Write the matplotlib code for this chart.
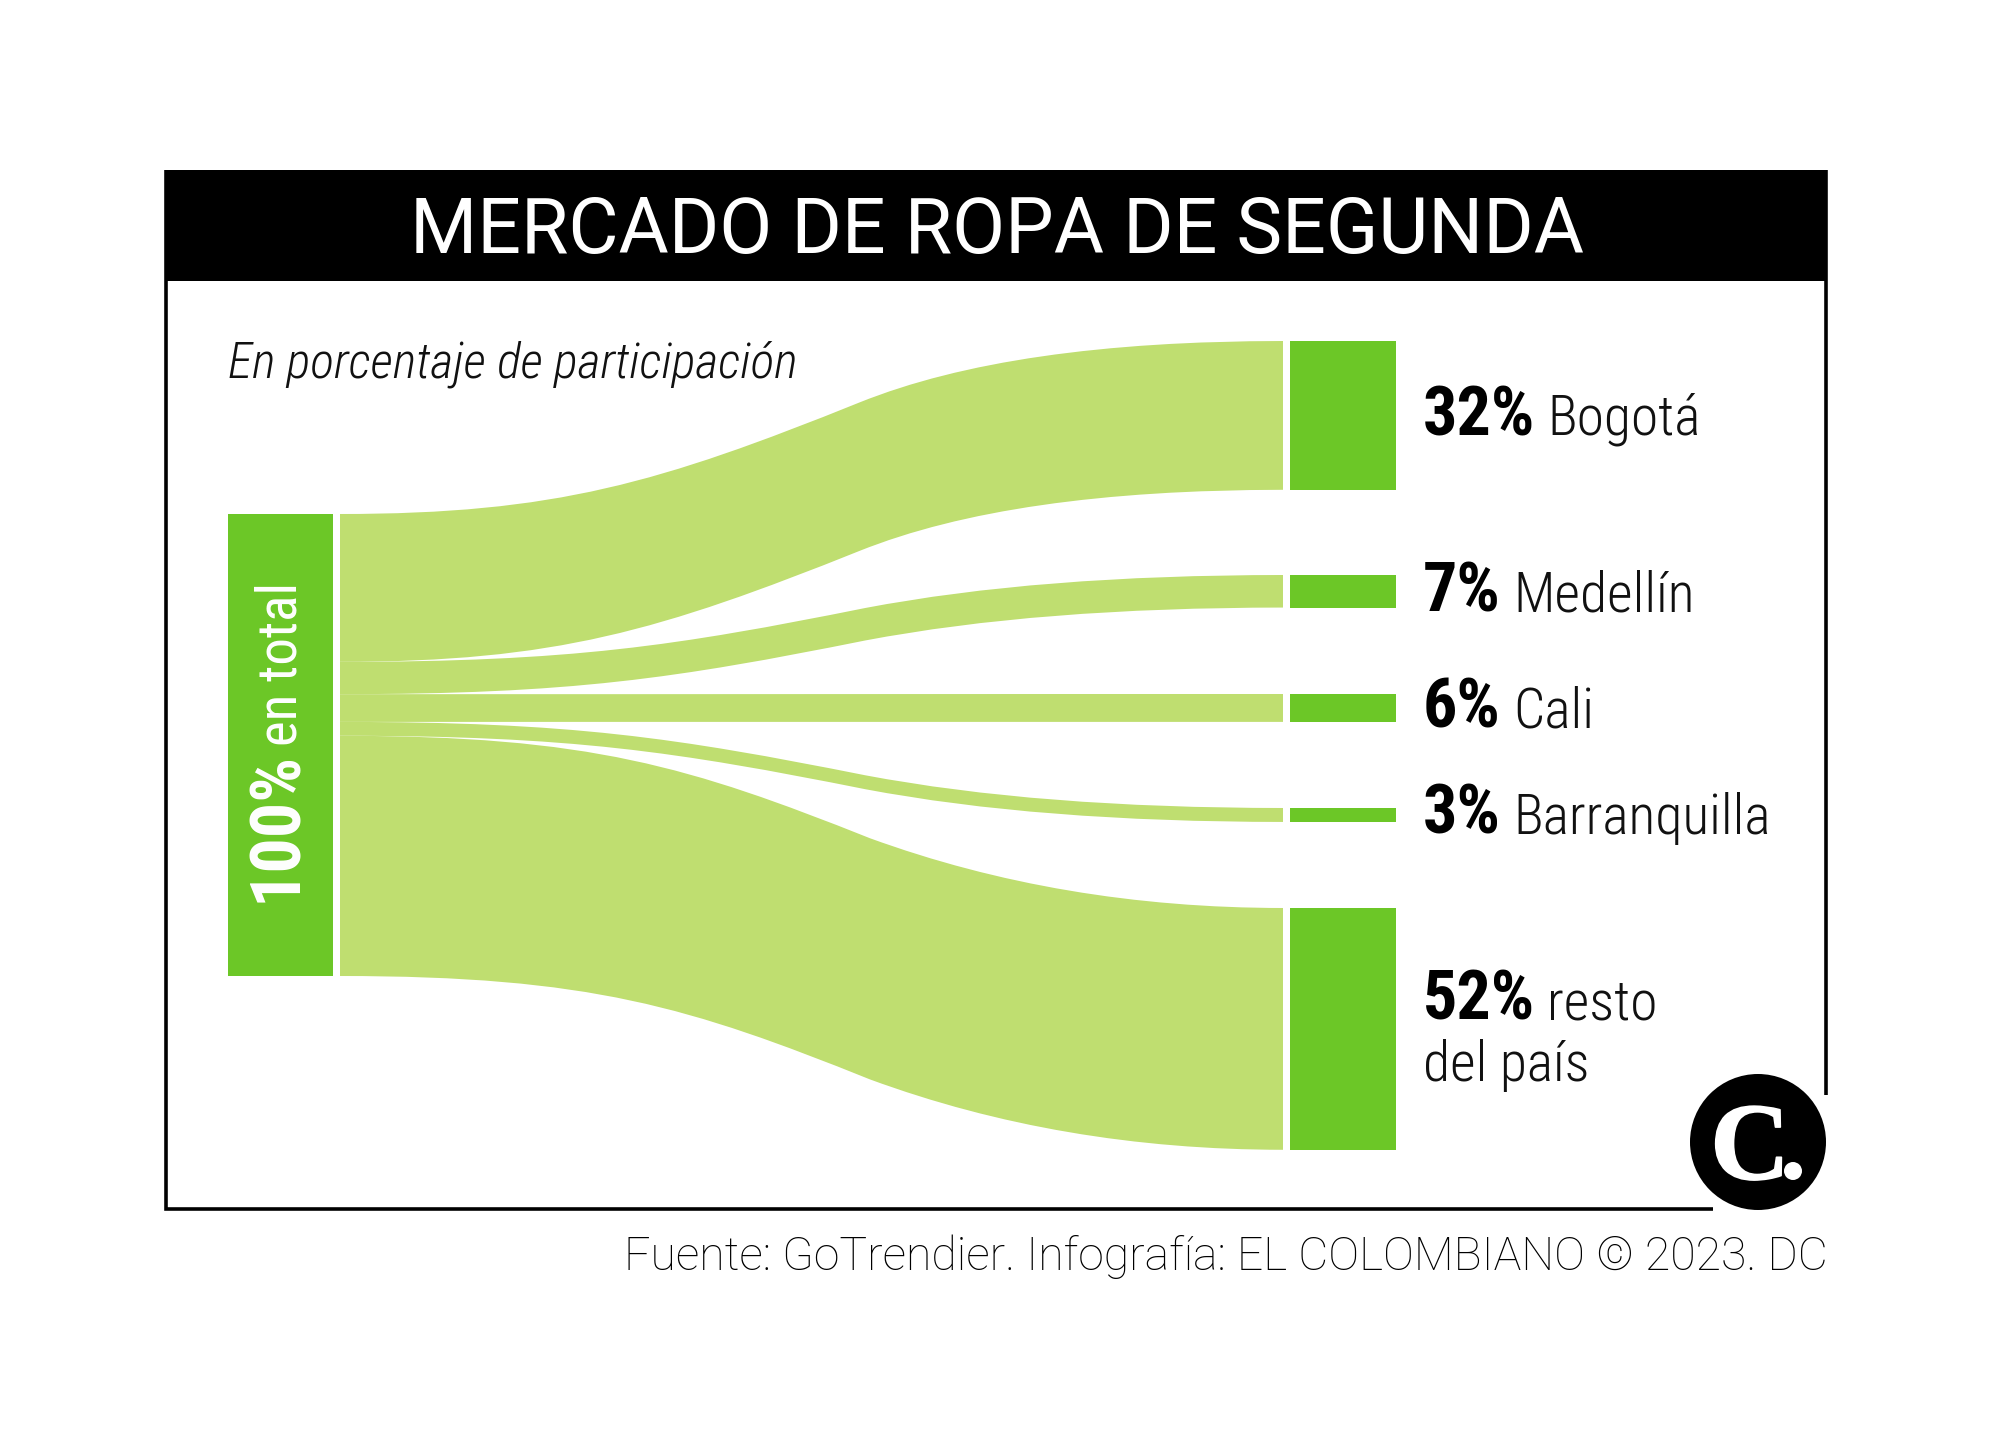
import matplotlib
matplotlib.use("Agg")
import matplotlib.pyplot as plt
import matplotlib.patheffects as pe
from matplotlib.path import Path
from matplotlib.patches import PathPatch, Rectangle, Circle

# --- data ---
categories = ["Bogotá", "Medellín", "Cali", "Barranquilla", "resto"]
values = [32, 7, 6, 3, 52]
total_label = "en total"
total_value = 100
title = "MERCADO DE ROPA DE SEGUNDA"
subtitle = "En porcentaje de participación"
source = "Fuente: GoTrendier. Infografía: EL COLOMBIANO © 2023. DC"

# --- layout (pixels of the 2000x1440 canvas) ---
DARK, LIGHT = "#6CC727", "#BFDE70"
NARROW = ["Roboto Condensed", "Liberation Sans Narrow", "Roboto"]
px = 0.72
left_top, left_scale = 514, 4.62
right_tops = [341, 575, 694, 808, 908]
right_scale = 4.65
name_x = [1547, 1513, 1513, 1513, 1547]
baselines = [435, 612, 728, 834, 1019]
# ribbon shape: c1_u, c2_u, c2_f, knot_u, knot_f, c3_u
shape_up = (0.228, 0.339, 0.18, 0.551, 0.645, 0.7126)
shape_mid = (0.245, 0.355, 0.18, 0.557, 0.62, 0.74)
shape_down = (0.265, 0.371, 0.179, 0.562, 0.595, 0.765)
shapes = [shape_up, shape_mid, shape_mid, shape_mid, shape_down]

fig = plt.figure(figsize=(20, 14.4), dpi=100, facecolor="white")
ax = fig.add_axes([0, 0, 1, 1])
ax.set_xlim(0, 2000)
ax.set_ylim(1440, 0)
ax.axis("off")

# frame
K = "#000000"
ax.add_patch(Rectangle((166, 170), 1660, 111, fc=K, ec="none"))
ax.plot([166, 166, 1713], [170, 1209, 1209], color=K, lw=2.6, solid_capstyle="butt", solid_joinstyle="miter")
ax.plot([1826, 1826], [170, 1095], color=K, lw=2.6, solid_capstyle="butt")

ax.text(997, 253, title, color="white", ha="center", va="baseline",
        fontsize=77 * px, family="Roboto")
ax.text(228, 377, subtitle, color="#111111", ha="left", va="baseline",
        fontsize=50 * px, style="italic", fontweight="light", family=NARROW)

# left node
ax.add_patch(Rectangle((227.5, left_top), 105.5, total_value * left_scale, fc=DARK, ec="none"))
ax.text(296.5, 902, f"{total_value}%", color="white", rotation=90, ha="left", va="baseline",
        rotation_mode="anchor", fontsize=70 * px, fontweight="bold", family=NARROW)
ax.text(296.5, 746, total_label, color="white", rotation=90, ha="left", va="baseline",
        rotation_mode="anchor", fontsize=55 * px, family=NARROW)


def ribbon_edge(ya, yb, shape):
    """Curve pieces from (x0, ya) to (x1, yb): a cubic, then a quadratic."""
    c1u, c2u, c2f, ku, kf, c3u = shape
    W = x1 - x0
    d = yb - ya
    return [(x0 + c1u * W, ya), (x0 + c2u * W, ya + c2f * d), (x0 + ku * W, ya + kf * d),
            (x0 + c3u * W, yb), (x1, yb)]


# flows + right nodes
x0, x1 = 340, 1283
y_left = left_top
for cat, v, top, nx, base, shape in zip(categories, values, right_tops, name_x, baselines, shapes):
    hl = v * left_scale
    hr = v * right_scale
    upper = ribbon_edge(y_left, top, shape)
    lower = ribbon_edge(y_left + hl, top + hr, shape)
    # upper edge forwards, lower edge backwards
    back = [lower[3], lower[2], lower[1], lower[0], (x0, y_left + hl)]
    verts = [(x0, y_left)] + upper + [lower[4]] + back + [(x0, y_left)]
    codes = ([Path.MOVETO, Path.CURVE4, Path.CURVE4, Path.CURVE4, Path.CURVE3, Path.CURVE3,
              Path.LINETO, Path.CURVE3, Path.CURVE3, Path.CURVE4, Path.CURVE4, Path.CURVE4,
              Path.CLOSEPOLY])
    ax.add_patch(PathPatch(Path(verts, codes), fc=LIGHT, ec="none"))
    ax.add_patch(Rectangle((1290, top), 106, hr, fc=DARK, ec="none"))
    ax.text(1423, base, f"{v}%", color=K, ha="left", va="baseline",
            fontsize=68 * px, fontweight="bold", family=NARROW)
    ax.text(nx, base, cat, color="#111111", ha="left", va="baseline",
            fontsize=55.5 * px, fontweight="light", family=NARROW)
    y_left += hl
ax.text(1423, 1081, "del país", color="#111111", ha="left", va="baseline",
        fontsize=55.5 * px, fontweight="light", family=NARROW)

# source
ax.text(1828, 1270, source, color=K, ha="right", va="baseline",
        fontsize=46.4 * px, fontweight="light", family="Roboto")

# logo
ax.add_patch(Circle((1758, 1142), 68, fc=K, ec="none"))
ax.text(1750, 1179, "C", color="white", ha="center", va="baseline",
        fontsize=110 * px, fontweight="bold", family="Liberation Serif",
        path_effects=[pe.withStroke(linewidth=1.2, foreground="white")])
ax.add_patch(Circle((1793, 1171), 9, fc="white", ec="none"))

fig.savefig("out.png", dpi=100, facecolor="white")
